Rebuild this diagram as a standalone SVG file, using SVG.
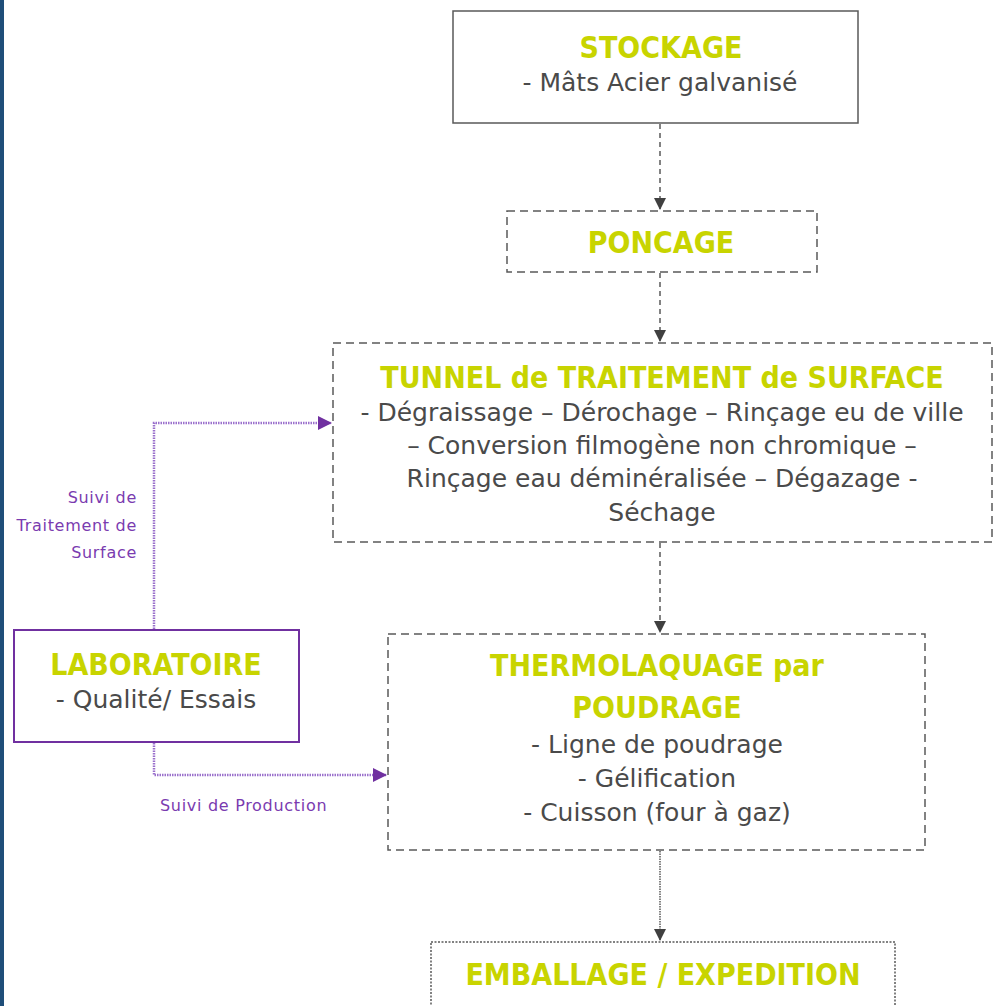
<svg xmlns="http://www.w3.org/2000/svg" width="999" height="1006" viewBox="0 0 999 1006">
<style>
.title{font-family:"DejaVu Sans",sans-serif;font-stretch:condensed;font-weight:bold;font-size:30px;fill:#c8d400;text-anchor:middle}
.body{font-family:"DejaVu Sans",sans-serif;font-size:25px;fill:#4a4a4a;text-anchor:middle}
.lbl{font-family:"DejaVu Sans",sans-serif;font-size:16px;letter-spacing:0.7px;fill:#7a3bb0}
.box{fill:#fff;stroke:#595959;stroke-width:1.5}
.dash{stroke-dasharray:8 5}
.dot{stroke-dasharray:2 1.5}
.gconn{fill:none;stroke:#595959;stroke-width:1.5;stroke-dasharray:5 4}
.pconn{fill:none;stroke:#9a70cc;stroke-width:2.5;stroke-dasharray:1.5 1}
</style>
<defs>
<marker id="ag" markerWidth="12" markerHeight="12" refX="11" refY="6" orient="auto" markerUnits="userSpaceOnUse"><path d="M0,0 L12,6 L0,12 Z" fill="#404040"/></marker>
<marker id="ap" markerWidth="14" markerHeight="14" refX="13" refY="7" orient="auto" markerUnits="userSpaceOnUse"><path d="M0,0 L14,7 L0,14 Z" fill="#7030a0"/></marker>
</defs>
<rect width="999" height="1006" fill="#fff"/>
<rect x="0" y="0" width="4" height="1006" fill="#1f4e79"/>
<g id="connectors">
<path class="gconn" d="M660,124 V209" marker-end="url(#ag)"/>
<path class="gconn" d="M660,273 V341" marker-end="url(#ag)"/>
<path class="gconn" d="M660,543 V632" marker-end="url(#ag)"/>
<path class="gconn" d="M660,851 V940" style="stroke-dasharray:1.5 1" marker-end="url(#ag)"/>
<path class="pconn" d="M154,629 V423 H331" marker-end="url(#ap)"/>
<path class="pconn" d="M154,743 V775 H386" marker-end="url(#ap)"/>
<text class="lbl" x="137" y="503" text-anchor="end">Suivi de</text>
<text class="lbl" x="137" y="531" text-anchor="end">Traitement de</text>
<text class="lbl" x="137" y="558" text-anchor="end">Surface</text>
<text class="lbl" x="160" y="811">Suivi de Production</text>
</g>
<g id="stockage">
<rect class="box" x="453" y="11" width="405" height="112"/>
<text class="title" x="661" y="58">STOCKAGE</text>
<text class="body" x="660" y="91">- Mâts Acier galvanisé</text>
</g>
<g id="poncage">
<rect class="box dash" x="507" y="211" width="310" height="61"/>
<text class="title" x="661" y="253">PONCAGE</text>
</g>
<g id="tunnel">
<rect class="box dash" x="333" y="343" width="659" height="199"/>
<text class="title" x="662" y="388">TUNNEL de TRAITEMENT de SURFACE</text>
<text class="body" x="662" y="421">- Dégraissage – Dérochage – Rinçage eu de ville</text>
<text class="body" x="662" y="454">– Conversion filmogène non chromique –</text>
<text class="body" x="662" y="487">Rinçage eau déminéralisée – Dégazage -</text>
<text class="body" x="662" y="521">Séchage</text>
</g>
<g id="laboratoire">
<rect class="box" x="14" y="630" width="285" height="112" style="stroke:#7030a0;stroke-width:2"/>
<text class="title" x="156" y="675">LABORATOIRE</text>
<text class="body" x="156" y="708">- Qualité/ Essais</text>
</g>
<g id="thermolaquage">
<rect class="box dash" x="388" y="634" width="537" height="216"/>
<text class="title" x="657" y="676">THERMOLAQUAGE par</text>
<text class="title" x="657" y="718">POUDRAGE</text>
<text class="body" x="657" y="753">- Ligne de poudrage</text>
<text class="body" x="657" y="787">- Gélification</text>
<text class="body" x="657" y="821">- Cuisson (four à gaz)</text>
</g>
<g id="emballage">
<rect class="box dot" x="431" y="942" width="464" height="80"/>
<text class="title" x="663" y="985">EMBALLAGE / EXPEDITION</text>
</g>
</svg>
